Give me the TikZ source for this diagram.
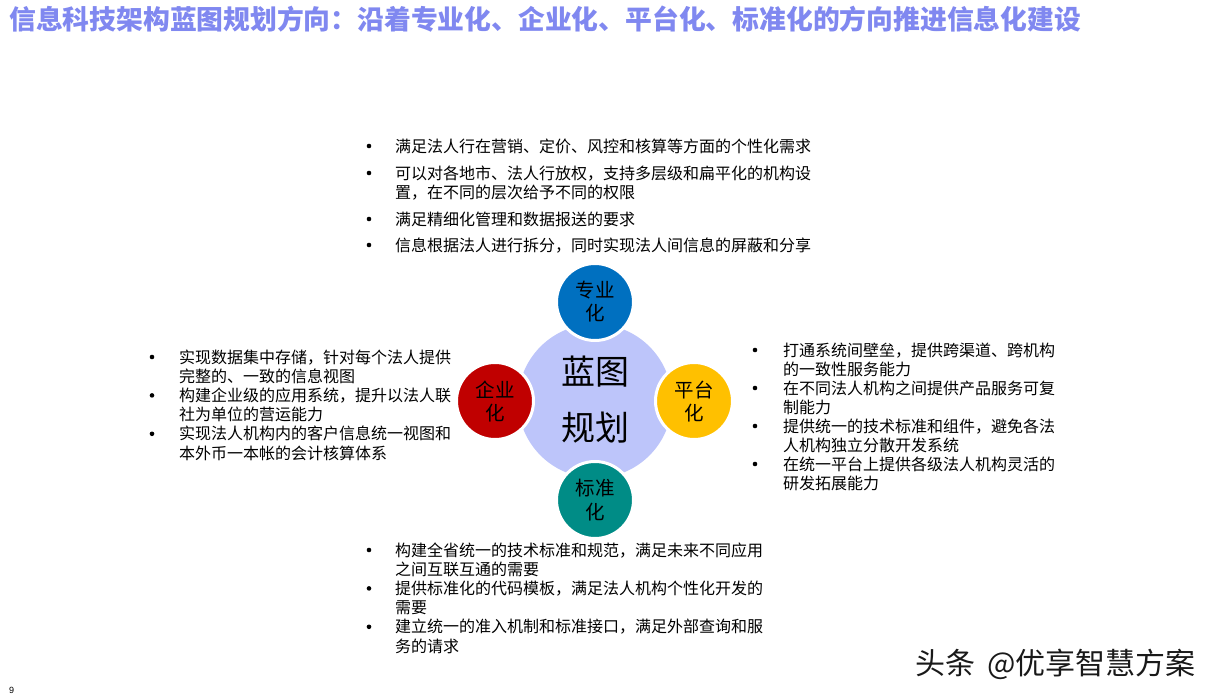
\documentclass[tikz,border=0pt]{standalone}
\usepackage{fontspec}
\setmainfont{Noto Sans CJK SC}
\newfontfamily\cjk{Noto Sans CJK SC}
\newfontfamily\latinsans{Liberation Sans}
\definecolor{titlec}{HTML}{8088F0}
\definecolor{lav}{HTML}{BDC5FA}
\definecolor{cblue}{HTML}{0070C0}
\definecolor{cred}{HTML}{C00000}
\definecolor{cyel}{HTML}{FFC000}
\definecolor{cteal}{HTML}{008C86}
\tikzset{
  ln/.style={anchor=base west, inner sep=0pt, yshift=-6.1pt, font=\cjk\fontsize{16}{19}\selectfont, text=black},
  bdot/.style={circle, fill=black, inner sep=0pt, minimum size=4.6pt},
  petal/.style={circle, draw=white, line width=3pt, minimum size=77pt, inner sep=0pt},
  ptext/.style={anchor=base, inner sep=0pt, yshift=-7.3pt, font=\cjk\fontsize{19.5}{23}\selectfont, text=black},
  ctext/.style={anchor=base, inner sep=0pt, yshift=-12.8pt, font=\cjk\fontsize{34}{40}\selectfont, text=black}
}
\begin{document}
\begin{tikzpicture}[x=1pt,y=-1pt]
\useasboundingbox[fill=white] (0,0) rectangle (1216,699);
% title
\node[anchor=base west, inner sep=0pt, text=titlec, font=\cjk\bfseries\fontsize{26.8}{30}\selectfont] (title) at (9,29) {信息科技架构蓝图规划方向：沿着专业化、企业化、平台化、标准化的方向推进信息化建设};
% center
\node[circle, fill=lav, minimum size=154pt, inner sep=0pt] (hub) at (595,401) {};
\node[petal, fill=cblue] (ptop) at (595,302) {};
\node[petal, fill=cred] (pleft) at (495,401) {};
\node[petal, fill=cyel] (pright) at (694,401) {};
\node[petal, fill=cteal] (pbot) at (595,500) {};
\node[ctext] (c1) at (595,372) {蓝图};
\node[ctext] (c2) at (595,428) {规划};
\node[ptext] (pt1) at (595,290) {专业};
\node[ptext] (pt2) at (595,313) {化};
\node[ptext] (pl1) at (495,390) {企业};
\node[ptext] (pl2) at (495,413) {化};
\node[ptext] (pr1) at (694,390) {平台};
\node[ptext] (pr2) at (694,413) {化};
\node[ptext] (pb1) at (595,488) {标准};
\node[ptext] (pb2) at (595,512) {化};
% top block
\node[bdot] (tb1) at (369,146) {};
\node[ln] (t1) at (395,146) {满足法人行在营销、定价、风控和核算等方面的个性化需求};
\node[bdot] (tb2) at (369,173) {};
\node[ln] (t2a) at (395,173) {可以对各地市、法人行放权，支持多层级和扁平化的机构设};
\node[ln] (t2b) at (395,192) {置，在不同的层次给予不同的权限};
\node[bdot] (tb3) at (369,219) {};
\node[ln] (t3) at (395,219) {满足精细化管理和数据报送的要求};
\node[bdot] (tb4) at (369,245) {};
\node[ln] (t4) at (395,245) {信息根据法人进行拆分，同时实现法人间信息的屏蔽和分享};
% left block
\node[bdot] (lb1) at (152,357) {};
\node[ln] (l1a) at (179,357) {实现数据集中存储，针对每个法人提供};
\node[ln] (l1b) at (179,376.2) {完整的、一致的信息视图};
\node[bdot] (lb2) at (152,395.4) {};
\node[ln] (l2a) at (179,395.4) {构建企业级的应用系统，提升以法人联};
\node[ln] (l2b) at (179,414.6) {社为单位的营运能力};
\node[bdot] (lb3) at (152,433.8) {};
\node[ln] (l3a) at (179,433.8) {实现法人机构内的客户信息统一视图和};
\node[ln] (l3b) at (179,453) {本外币一本帐的会计核算体系};
% right block
\node[bdot] (rb1) at (755,350) {};
\node[ln] (r1a) at (783,350) {打通系统间壁垒，提供跨渠道、跨机构};
\node[ln] (r1b) at (783,369) {的一致性服务能力};
\node[bdot] (rb2) at (755,388) {};
\node[ln] (r2a) at (783,388) {在不同法人机构之间提供产品服务可复};
\node[ln] (r2b) at (783,407) {制能力};
\node[bdot] (rb3) at (755,426) {};
\node[ln] (r3a) at (783,426) {提供统一的技术标准和组件，避免各法};
\node[ln] (r3b) at (783,445) {人机构独立分散开发系统};
\node[bdot] (rb4) at (755,464) {};
\node[ln] (r4a) at (783,464) {在统一平台上提供各级法人机构灵活的};
\node[ln] (r4b) at (783,483) {研发拓展能力};
% bottom block
\node[bdot] (bb1) at (369,550) {};
\node[ln] (b1a) at (395,550) {构建全省统一的技术标准和规范，满足未来不同应用};
\node[ln] (b1b) at (395,569.2) {之间互联互通的需要};
\node[bdot] (bb2) at (369,588.4) {};
\node[ln] (b2a) at (395,588.4) {提供标准化的代码模板，满足法人机构个性化开发的};
\node[ln] (b2b) at (395,607.6) {需要};
\node[bdot] (bb3) at (369,626.8) {};
\node[ln] (b3a) at (395,626.8) {建立统一的准入机制和标准接口，满足外部查询和服};
\node[ln] (b3b) at (395,646) {务的请求};
% page number & watermark
\node[anchor=base west, inner sep=0pt, font=\latinsans\fontsize{9}{10}\selectfont] (pnum) at (9,693) {9};
\node[anchor=base east, inner sep=0pt, text=black!90, font=\cjk\fontsize{30}{33}\selectfont] (wm) at (1196,674) {头条\hspace{12pt}@优享智慧方案};
\end{tikzpicture}
\end{document}
